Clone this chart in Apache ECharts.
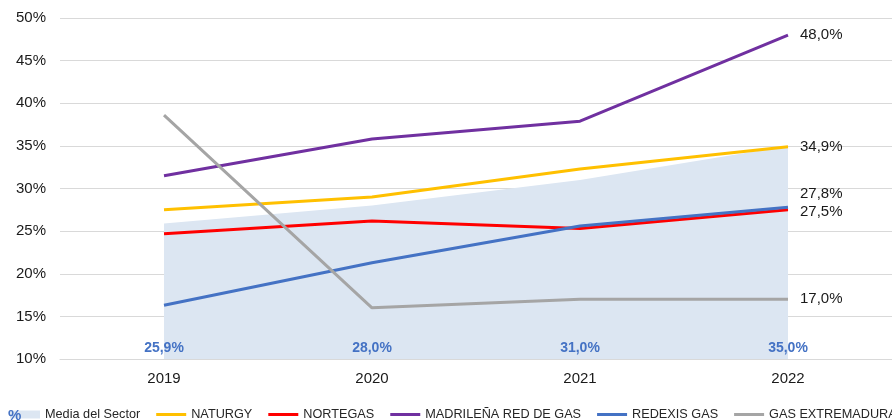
<!DOCTYPE html>
<html>
<head>
<meta charset="utf-8">
<script src="https://cdn.jsdelivr.net/npm/echarts@6/dist/echarts.min.js"></script>
<style>
  html, body { margin: 0; padding: 0; background: #fff; }
  #main { width: 892px; height: 420px; }
</style>
</head>
<body>
<div id="main"></div>
<script>
var years = ['2019', '2020', '2021', '2022'];
var media = [25.9, 28.0, 31.0, 35.0];
var naturgy = [27.5, 29.0, 32.3, 34.9];
var nortegas = [24.7, 26.2, 25.3, 27.5];
var madrilena = [31.5, 35.8, 37.9, 48.0];
var redexis = [16.3, 21.3, 25.6, 27.8];
var gasExtremadura = [38.6, 16.0, 17.0, 17.0];
var yTicks = [10, 15, 20, 25, 30, 35, 40, 45, 50];

var fontFamily = '"Liberation Sans", Arial, sans-serif';
// icono de leyenda: línea gruesa centrada en la caja
var lineIcon = 'path://M0,0M0,2.5L30,2.5L30,5.5L0,5.5ZM30,8';

function pct(v) {
    return v.toFixed(1).replace('.', ',') + '%';
}

// etiqueta al final de la línea
function lineSeries(name, arr, color, dy) {
    return {
        name: name,
        type: 'line',
        data: arr,
        symbol: 'none',
        lineStyle: { color: color, width: 3 },
        itemStyle: { color: color },
        endLabel: {
            show: true,
            distance: 12,
            offset: [0, dy || 0],
            color: '#1a1a1a',
            fontSize: 15,
            fontFamily: fontFamily,
            formatter: function (p) { return pct(p.value); }
        },
        z: 3
    };
}

var chart = echarts.init(document.getElementById('main'));
var option = {
    animation: false,
    grid: { left: 60, right: 0, top: 18, bottom: 61 },
    textStyle: { fontFamily: fontFamily },
    legend: {
        left: 5,
        bottom: -6,
        width: 1200,
        itemWidth: 30,
        itemHeight: 8,
        itemGap: 16,
        textStyle: { fontSize: 12.7, color: '#262626', fontFamily: fontFamily },
        data: [
            { name: 'Media del Sector', icon: 'rect', itemStyle: { color: '#DCE6F2' } },
            { name: 'NATURGY', icon: lineIcon },
            { name: 'NORTEGAS', icon: lineIcon },
            { name: 'MADRILEÑA RED DE GAS', icon: lineIcon },
            { name: 'REDEXIS GAS', icon: lineIcon },
            { name: 'GAS EXTREMADURA', icon: lineIcon }
        ]
    },
    xAxis: {
        type: 'category',
        data: years,
        boundaryGap: true,
        axisLine: { lineStyle: { color: '#D9D9D9', width: 1 } },
        axisTick: { inside: true, length: 6, lineStyle: { color: '#D9D9D9' } },
        axisLabel: { fontSize: 15, color: '#1a1a1a', margin: 12, fontFamily: fontFamily }
    },
    yAxis: {
        type: 'value',
        min: yTicks[0],
        max: yTicks[yTicks.length - 1],
        interval: 5,
        axisLine: { show: false },
        axisTick: { show: false },
        axisLabel: {
            fontSize: 15, color: '#1a1a1a', margin: 14, fontFamily: fontFamily,
            formatter: function (v) { return v + '%'; }
        },
        splitLine: { lineStyle: { color: '#D9D9D9', width: 1 } }
    },
    series: [
        {
            name: 'Media del Sector',
            type: 'line',
            data: media,
            symbol: 'none',
            lineStyle: { width: 0, color: '#DCE6F2' },
            itemStyle: { color: '#DCE6F2' },
            areaStyle: { color: '#DCE6F2', opacity: 1 },
            z: 1
        },
        {
            // etiquetas de la media abajo
            name: 'Media etiquetas',
            type: 'bar',
            data: media,
            barWidth: 40,
            itemStyle: { color: 'rgba(0,0,0,0)' },
            label: {
                show: true,
                position: 'insideBottom',
                distance: 4,
                color: '#4472C4',
                fontWeight: 'bold',
                fontSize: 14,
                fontFamily: fontFamily,
                formatter: function (p) { return pct(p.value); }
            },
            z: 2
        },
        lineSeries('NATURGY', naturgy, '#FFC000'),
        lineSeries('NORTEGAS', nortegas, '#FF0000', 2),
        lineSeries('MADRILEÑA RED DE GAS', madrilena, '#7030A0'),
        lineSeries('REDEXIS GAS', redexis, '#4472C4', -13),
        lineSeries('GAS EXTREMADURA', gasExtremadura, '#A5A5A5')
    ],
    graphic: [
        {
            type: 'text',
            left: 8,
            top: 408,
            z: 100,
            style: { text: '%', fill: '#4472C4', font: 'bold 15px "Liberation Sans", Arial, sans-serif' }
        }
    ]
};
chart.setOption(option);
</script>
</body>
</html>
